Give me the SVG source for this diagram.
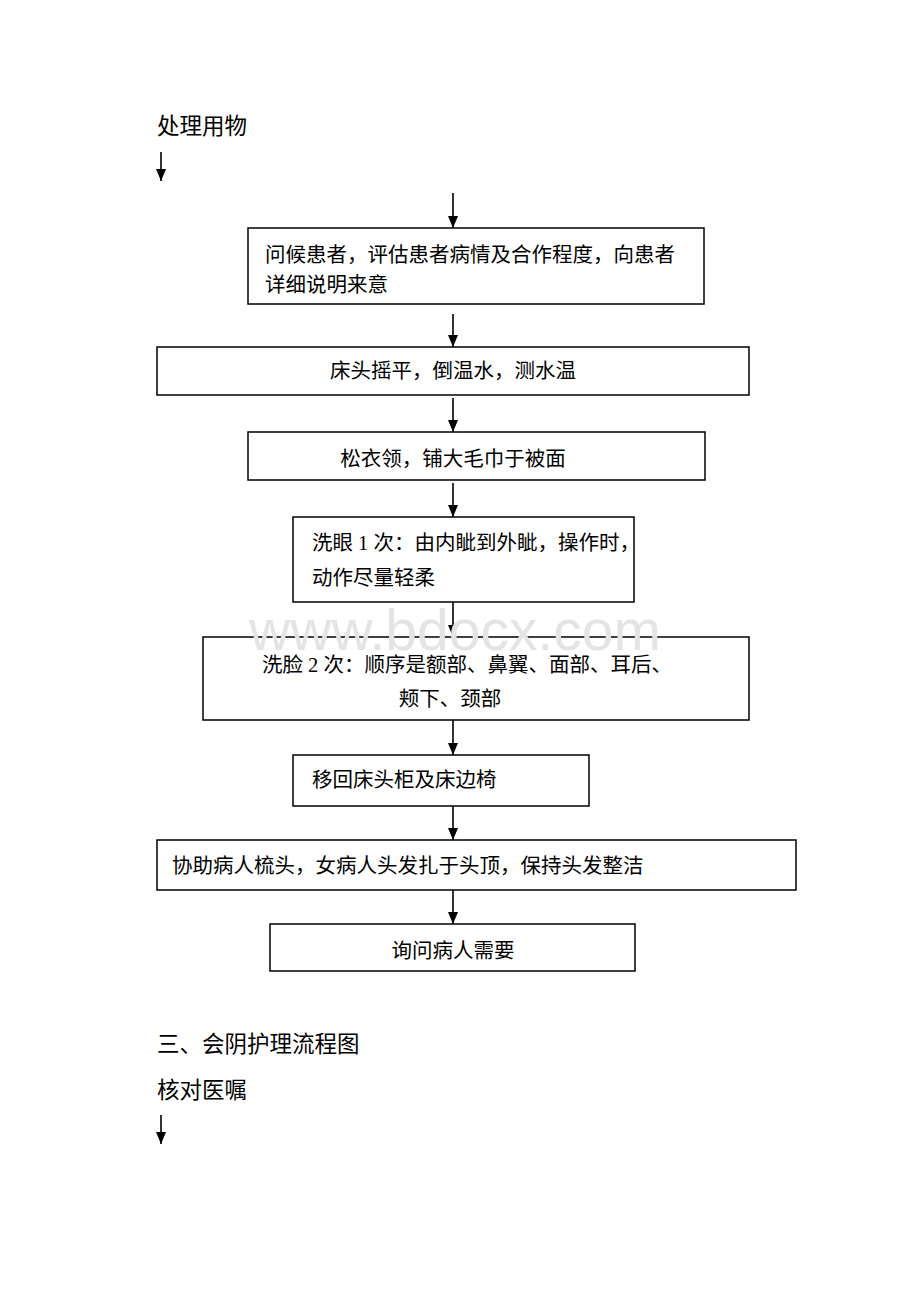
<svg xmlns="http://www.w3.org/2000/svg" width="920" height="1302" viewBox="0 0 920 1302">
<style>
.bg{fill:#fff}
.box{fill:#fff;stroke:#000;stroke-width:1.5}
.t{font-family:"Liberation Serif","Noto Sans CJK SC",serif;font-size:20.5px;fill:#000}
.h{font-family:"Liberation Serif","Noto Sans CJK SC",serif;font-size:22.5px;fill:#000}
.c{text-anchor:middle}
.ln{stroke:#000;stroke-width:1.6;fill:none;marker-end:url(#ah)}
.wm{font-family:"Liberation Sans",Arial,sans-serif;font-size:57px;fill:#e4e4e4}
</style>
<defs>
<marker id="ah" markerWidth="12" markerHeight="10" refX="12" refY="5" orient="auto" markerUnits="userSpaceOnUse" viewBox="0 0 12 10">
<path d="M0,0 L12,5 L0,10 Z" fill="#000"/>
</marker>
</defs>
<rect class="bg" x="0" y="0" width="920" height="1302"/>
<g id="title1"><text class="h" x="157" y="134">处理用物</text></g>
<g id="title2"><text class="h" x="157" y="1052">三、会阴护理流程图</text></g>
<g id="title3"><text class="h" x="157" y="1098">核对医嘱</text></g>
<g id="connectors">
<path class="ln" d="M161,152 V181"/>
<path class="ln" d="M453,193 V228"/>
<path class="ln" d="M453,314 V347"/>
<path class="ln" d="M453,398 V432"/>
<path class="ln" d="M453,483 V517"/>
<path class="ln" d="M453,602 V637"/>
<path class="ln" d="M453,720 V755"/>
<path class="ln" d="M453,806 V840"/>
<path class="ln" d="M453,890 V924"/>
<path class="ln" d="M161,1115 V1144"/>
</g>
<g id="n1"><rect class="box" x="248" y="228" width="456" height="76"/>
<text class="t" x="265" y="262">问候患者，评估患者病情及合作程度，向患者</text>
<text class="t" x="265" y="292">详细说明来意</text></g>
<g id="n2"><rect class="box" x="157" y="347" width="592" height="48"/>
<text class="t c" x="453" y="378">床头摇平，倒温水，测水温</text></g>
<g id="n3"><rect class="box" x="248" y="432" width="457" height="48"/>
<text class="t c" x="453" y="466">松衣领，铺大毛巾于被面</text></g>
<g id="n4"><rect class="box" x="293" y="517" width="341" height="85"/>
<text class="t" x="312" y="550">洗眼 1 次：由内眦到外眦，操作时，</text>
<text class="t" x="312" y="585">动作尽量轻柔</text></g>
<g id="n5"><rect class="box" x="203" y="637" width="546" height="83"/>
<text class="t" x="262" y="672">洗脸 2 次：顺序是额部、鼻翼、面部、耳后、</text>
<text class="t c" x="450" y="706">颊下、颈部</text></g>
<g id="n6"><rect class="box" x="293" y="755" width="296" height="51"/>
<text class="t" x="312" y="787">移回床头柜及床边椅</text></g>
<g id="n7"><rect class="box" x="157" y="840" width="639" height="50"/>
<text class="t" x="172" y="873">协助病人梳头，女病人头发扎于头顶，保持头发整洁</text></g>
<g id="n8"><rect class="box" x="270" y="924" width="365" height="47"/>
<text class="t c" x="453" y="958">询问病人需要</text></g>
<text class="wm" x="455" y="650" text-anchor="middle">www.bdocx.com</text>
</svg>
